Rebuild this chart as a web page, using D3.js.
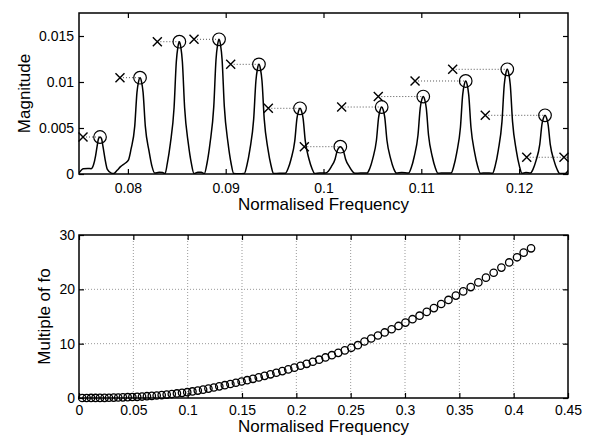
<!DOCTYPE html>
<html><head><meta charset="utf-8">
<script src="https://cdn.jsdelivr.net/npm/d3@7"></script>
<style>body{margin:0;background:#fff} text{font-family:"Liberation Sans",Arial,Helvetica,sans-serif}</style>
</head><body><svg id="c" width="590" height="438"></svg>
<script>
// ---------- Top panel data ----------
const topXTicks = [0.08, 0.09, 0.1, 0.11, 0.12];
const topXLabels = ["0.08", "0.09", "0.1", "0.11", "0.12"];
const topYTicks = [0, 0.005, 0.01, 0.015];
const topYLabels = ["0", "0.005", "0.01", "0.015"];

const spectrum = [
  [0.07500,0.00012],[0.07545,0.00058],[0.07590,0.00060],[0.07625,0.00058],[0.07650,0.00105],[0.07670,0.00200],[0.07685,0.00300],[0.07700,0.00385],[0.07715,0.00402],[0.07730,0.00385],[0.07745,0.00300],[0.07765,0.00170],[0.07790,0.00050],[0.07830,0.00010],[0.07855,0.00005],[0.07890,0.00040],[0.07925,0.00080],[0.07975,0.00120],
  [0.08005,0.00150],[0.08032,0.00270],[0.08070,0.00520],[0.08093,0.00890],[0.08109,0.01005],[0.08124,0.01047],[0.08139,0.01005],[0.08155,0.00890],[0.08178,0.00520],[0.08216,0.00250],[0.08247,0.00080],[0.08274,0.00010],[0.08320,0.00018],[0.08355,0.00016],
  [0.08380,0.00005],[0.08403,0.00115],[0.08434,0.00330],[0.08472,0.00720],[0.08495,0.01220],[0.08511,0.01380],[0.08526,0.01438],[0.08541,0.01380],[0.08557,0.01220],[0.08580,0.00720],[0.08618,0.00330],[0.08649,0.00115],[0.08676,0.00005],[0.08715,0.00020],[0.08750,0.00018],
  [0.08782,0.00005],[0.08809,0.00117],[0.08840,0.00335],[0.08878,0.00732],[0.08901,0.01245],[0.08917,0.01405],[0.08932,0.01464],[0.08947,0.01405],[0.08963,0.01245],[0.08986,0.00732],[0.09024,0.00335],[0.09055,0.00117],[0.09082,0.00005],[0.09130,0.00003],
  [0.09190,0.00005],[0.09217,0.00095],[0.09248,0.00270],[0.09286,0.00596],[0.09309,0.01013],[0.09325,0.01144],[0.09340,0.01192],[0.09355,0.01144],[0.09371,0.01013],[0.09394,0.00596],[0.09432,0.00270],[0.09463,0.00095],[0.09490,0.00005],[0.09550,0.00008],
  [0.09610,0.00008],[0.09637,0.00057],[0.09668,0.00160],[0.09706,0.00357],[0.09729,0.00607],[0.09745,0.00685],[0.09760,0.00714],[0.09775,0.00685],[0.09791,0.00607],[0.09814,0.00357],[0.09852,0.00160],[0.09883,0.00057],[0.09910,0.00005],[0.09960,0.00010],
  [0.10022,0.00010],[0.10049,0.00030],[0.10080,0.00080],[0.10118,0.00160],[0.10141,0.00255],[0.10157,0.00285],[0.10172,0.00297],[0.10187,0.00285],[0.10203,0.00255],[0.10226,0.00160],[0.10264,0.00080],[0.10295,0.00030],[0.10322,0.00008],[0.10380,0.00010],
  [0.10445,0.00010],[0.10472,0.00058],[0.10503,0.00165],[0.10541,0.00364],[0.10564,0.00619],[0.10580,0.00699],[0.10595,0.00728],[0.10610,0.00699],[0.10626,0.00619],[0.10649,0.00364],[0.10687,0.00165],[0.10718,0.00058],[0.10745,0.00010],[0.10800,0.00015],
  [0.10870,0.00010],[0.10897,0.00067],[0.10928,0.00190],[0.10966,0.00421],[0.10989,0.00716],[0.11005,0.00808],[0.11020,0.00842],[0.11035,0.00808],[0.11051,0.00716],[0.11074,0.00421],[0.11112,0.00190],[0.11143,0.00067],[0.11170,0.00008],[0.11240,0.00012],
  [0.11304,0.00010],[0.11331,0.00081],[0.11362,0.00230],[0.11400,0.00505],[0.11423,0.00860],[0.11439,0.00971],[0.11454,0.01011],[0.11469,0.00971],[0.11485,0.00860],[0.11508,0.00505],[0.11546,0.00230],[0.11577,0.00081],[0.11604,0.00008],[0.11660,0.00012],
  [0.11729,0.00008],[0.11756,0.00091],[0.11787,0.00258],[0.11825,0.00569],[0.11848,0.00967],[0.11864,0.01092],[0.11879,0.01138],[0.11894,0.01092],[0.11910,0.00967],[0.11933,0.00569],[0.11971,0.00258],[0.12002,0.00091],[0.12029,0.00008],[0.12070,0.00015],
  [0.12115,0.00010],[0.12142,0.00051],[0.12173,0.00145],[0.12211,0.00319],[0.12234,0.00542],[0.12250,0.00612],[0.12265,0.00638],[0.12280,0.00612],[0.12296,0.00542],[0.12319,0.00319],[0.12357,0.00145],[0.12388,0.00051],[0.12415,0.00005],
  [0.12470,0.00005],[0.12500,0.00035],[0.12530,0.00090]
];

// detected peaks (circles) and harmonic estimates (crosses), paired by index
const peakFreq = [0.07715,0.08124,0.08526,0.08932,0.09340,0.09760,0.10172,0.10595,0.11020,0.11454,0.11879,0.12265,0.12680,0.13100];
const peakMag  = [0.00402,0.01047,0.01438,0.01464,0.01192,0.00714,0.00297,0.00728,0.00842,0.01011,0.01138,0.00638,0.00182,0.00182];
const harmFreq = [0.07541,0.07919,0.08301,0.08676,0.09051,0.09436,0.09804,0.10186,0.10560,0.10936,0.11321,0.11654,0.12078,0.12459];
const harmMag  = peakMag;

// ---------- Bottom panel data ----------
const botXTicks = [0,0.05,0.1,0.15,0.2,0.25,0.3,0.35,0.4,0.45];
const botXLabels = ["0","0.05","0.1","0.15","0.2","0.25","0.3","0.35","0.4","0.45"];
const botYTicks = [0,10,20,30];
const botYLabels = ["0","10","20","30"];

const multFreq = [0.0030,0.0070,0.0111,0.0152,0.0193,0.0235,0.0276,0.0319,0.0361,0.0404,0.0448,0.0491,0.0535,0.0580,0.0625,0.0670,0.0715,0.0761,0.0807,0.0854,0.0901,0.0948,0.0996,0.1044,0.1093,0.1142,0.1191,0.1241,0.1291,0.1342,0.1393,0.1444,0.1496,0.1548,0.1601,0.1654,0.1708,0.1762,0.1816,0.1871,0.1926,0.1982,0.2039,0.2095,0.2152,0.2210,0.2268,0.2327,0.2386,0.2446,0.2506,0.2566,0.2627,0.2689,0.2751,0.2813,0.2877,0.2940,0.3004,0.3069,0.3134,0.3200,0.3266,0.3333,0.3400,0.3468,0.3536,0.3605,0.3675,0.3745,0.3816,0.3887,0.3959,0.4031,0.4092,0.4160];
const multVal  = [0,0,0.01,0.01,0.02,0.03,0.05,0.07,0.09,0.12,0.15,0.18,0.22,0.27,0.33,0.39,0.46,0.54,0.63,0.73,0.84,0.95,1.07,1.21,1.37,1.54,1.73,1.93,2.14,2.36,2.58,2.81,3.04,3.28,3.53,3.79,4.08,4.36,4.65,4.95,5.26,5.59,5.94,6.29,6.67,7.05,7.46,7.88,8.31,8.76,9.24,9.72,10.40,10.95,11.50,12.06,12.65,13.26,13.88,14.50,15.15,15.85,16.55,17.30,18.05,18.85,19.62,20.42,21.28,22.15,23.05,24.00,24.95,25.90,26.75,27.55];

// ---------- Drawing ----------
const svg = d3.select("#c");
const FONT_TICK = 14, FONT_LAB = 17;

function panel(opt) {
  const {x, y, xTicks, xLabels, yTicks, yLabels, padX, padY} = opt;
  const g = svg.append("g");
  const [x0, x1] = x.range(), [y0, y1] = y.range();
  const tick = 5;
  const ax = g.append("g").attr("transform", `translate(0,${y0})`)
    .call(d3.axisBottom(x).tickValues(xTicks).tickFormat((d,i)=>xLabels[i]).tickSizeInner(-tick).tickSizeOuter(0).tickPadding(padX));
  const axT = g.append("g").attr("transform", `translate(0,${y1})`)
    .call(d3.axisTop(x).tickValues(xTicks).tickFormat("").tickSizeInner(-tick).tickSizeOuter(0));
  const ay = g.append("g").attr("transform", `translate(${x0},0)`)
    .call(d3.axisLeft(y).tickValues(yTicks).tickFormat((d,i)=>yLabels[i]).tickSizeInner(-tick).tickSizeOuter(0).tickPadding(padY));
  const ayR = g.append("g").attr("transform", `translate(${x1},0)`)
    .call(d3.axisRight(y).tickValues(yTicks).tickFormat("").tickSizeInner(-tick).tickSizeOuter(0));
  [ax, axT, ay, ayR].forEach(a => {
    a.select(".domain").remove();
    a.selectAll("line").attr("stroke", "#000").attr("stroke-width", 1.2);
    a.selectAll("text").attr("font-size", FONT_TICK).attr("fill", "#000")
      .style("font-family", '"Liberation Sans",Arial,sans-serif');
  });
  return g;
}

// Top panel
const xT = d3.scaleLinear().domain([0.075, 0.125]).range([79, 568]);
const yT = d3.scaleLinear().domain([0, 0.0175]).range([174, 13]);

svg.append("clipPath").attr("id", "clipT").append("rect")
  .attr("x", 79).attr("y", 13).attr("width", 489).attr("height", 161);

const gT = panel({x: xT, y: yT, xTicks: topXTicks, xLabels: topXLabels, yTicks: topYTicks, yLabels: topYLabels, padX: 9, padY: 5});
const cT = gT.append("g").attr("clip-path", "url(#clipT)");

cT.selectAll("line.link").data(d3.range(harmFreq.length)).join("line")
  .attr("x1", i => xT(harmFreq[i])).attr("x2", i => xT(peakFreq[i]))
  .attr("y1", i => yT(harmMag[i])).attr("y2", i => yT(peakMag[i]))
  .attr("stroke", "#555").attr("stroke-width", 1).attr("stroke-dasharray", "1,2");

cT.append("path").datum(spectrum)
  .attr("d", d3.line().x(d => xT(d[0])).y(d => yT(d[1])).curve(d3.curveMonotoneX))
  .attr("fill", "none").attr("stroke", "#000").attr("stroke-width", 1.5);

const dom = xT.domain();
gT.selectAll("circle.pk").data(d3.range(peakFreq.length).filter(i => peakFreq[i] >= dom[0] && peakFreq[i] <= dom[1])).join("circle")
  .attr("cx", i => xT(peakFreq[i])).attr("cy", i => yT(peakMag[i])).attr("r", 6.3)
  .attr("fill", "none").attr("stroke", "#000").attr("stroke-width", 1.2);

gT.selectAll("path.hx").data(d3.range(harmFreq.length).filter(i => harmFreq[i] >= dom[0] && harmFreq[i] <= dom[1])).join("path")
  .attr("transform", i => `translate(${xT(harmFreq[i])},${yT(harmMag[i])})`)
  .attr("d", "M-4.5,-4.5L4.5,4.5M-4.5,4.5L4.5,-4.5")
  .attr("stroke", "#000").attr("stroke-width", 1.4).attr("fill", "none");

gT.append("rect").attr("x", 79).attr("y", 13).attr("width", 489).attr("height", 161)
  .attr("fill", "none").attr("stroke", "#000").attr("stroke-width", 1.5);

gT.append("text").attr("x", (79+568)/2).attr("y", 210).attr("text-anchor", "middle")
  .attr("font-size", FONT_LAB).text("Normalised Frequency");
gT.append("text").attr("transform", `translate(30,93.5) rotate(-90)`).attr("text-anchor", "middle")
  .attr("font-size", FONT_LAB).text("Magnitude");

// Bottom panel
const xB = d3.scaleLinear().domain([0, 0.45]).range([79, 568]);
const yB = d3.scaleLinear().domain([0, 30]).range([398, 235]);

const gB = panel({x: xB, y: yB, xTicks: botXTicks, xLabels: botXLabels, yTicks: botYTicks, yLabels: botYLabels, padX: 7, padY: 4});
const grid = gB.insert("g", ":first-child");
grid.selectAll("line.gx").data(botXTicks.slice(1, -1)).join("line")
  .attr("x1", d => xB(d)).attr("x2", d => xB(d)).attr("y1", 235).attr("y2", 398)
  .attr("stroke", "#999").attr("stroke-width", 1).attr("stroke-dasharray", "1,2");
grid.selectAll("line.gy").data(botYTicks.slice(1, -1)).join("line")
  .attr("y1", d => yB(d)).attr("y2", d => yB(d)).attr("x1", 79).attr("x2", 568)
  .attr("stroke", "#999").attr("stroke-width", 1).attr("stroke-dasharray", "1,2");

gB.selectAll("circle.m").data(d3.range(multFreq.length)).join("circle")
  .attr("cx", i => xB(multFreq[i])).attr("cy", i => yB(multVal[i])).attr("r", 3.7)
  .attr("fill", "none").attr("stroke", "#000").attr("stroke-width", 1.3);

gB.append("rect").attr("x", 79).attr("y", 235).attr("width", 489).attr("height", 163)
  .attr("fill", "none").attr("stroke", "#000").attr("stroke-width", 1.5);

gB.append("text").attr("x", (79+568)/2).attr("y", 432).attr("text-anchor", "middle")
  .attr("font-size", FONT_LAB).text("Normalised Frequency");
gB.append("text").attr("transform", `translate(50,316.5) rotate(-90)`).attr("text-anchor", "middle")
  .attr("font-size", FONT_LAB).text("Multiple of fo");
</script></body></html>
